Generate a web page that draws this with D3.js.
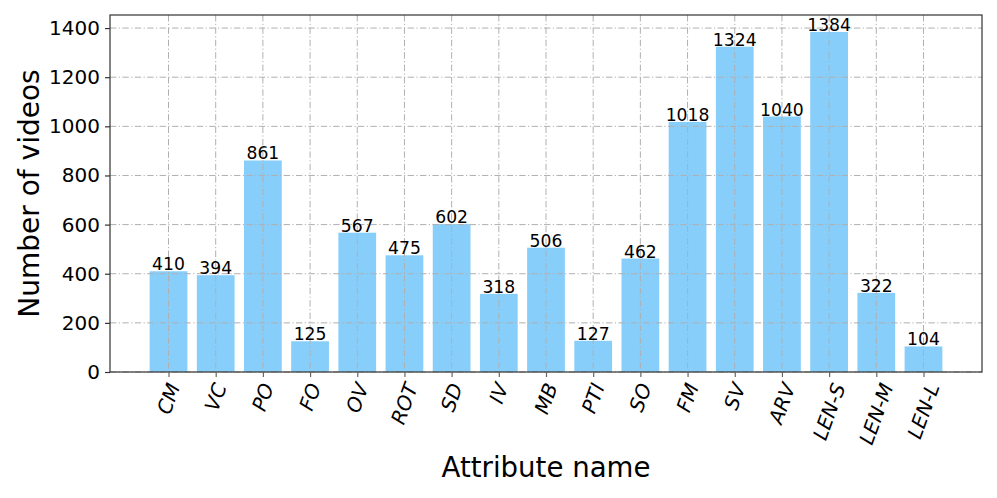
<!DOCTYPE html>
<html>
<head>
<meta charset="utf-8">
<script src="https://cdn.jsdelivr.net/npm/d3@7"></script>
<style>
  body { margin: 0; background: #fff; }
  svg { font-family: "DejaVu Sans", sans-serif; }
</style>
</head>
<body>
<svg width="997" height="498"></svg>
<script>
const attributes = ['CM', 'VC', 'PO', 'FO', 'OV', 'ROT', 'SD', 'IV', 'MB', 'PTI', 'SO', 'FM', 'SV', 'ARV', 'LEN-S', 'LEN-M', 'LEN-L'];
const videoCounts = [410, 394, 861, 125, 567, 475, 602, 318, 506, 127, 462, 1018, 1324, 1040, 1384, 322, 104];
const yTicks = [0, 200, 400, 600, 800, 1000, 1200, 1400];

function drawChart() {
	const svg = d3.select('svg');
	const left = 110, right = 982, top = 15, bottom = 372;

	// matplotlib-like limits: bars of width 0.8 with 5% margin
	const n = attributes.length;
	const pad = (n - 1 + 0.8) * 0.05;
	const x = d3.scaleLinear().domain([-0.4 - pad, n - 1 + 0.4 + pad]).range([left, right]);
	const ymax = d3.max(videoCounts) * 1.05;
	const y = d3.scaleLinear().domain([0, ymax]).range([bottom, top]);

	const grid = svg.append('g')
		.attr('stroke', '#b0b0b0')
		.attr('stroke-width', 1)
		.attr('stroke-dasharray', '6.4,2.4,1.2,2.4');
	grid.selectAll('line.h').data(yTicks).enter().append('line')
		.attr('x1', left).attr('x2', right)
		.attr('y1', d => y(d)).attr('y2', d => y(d));
	grid.selectAll('line.v').data(attributes).enter().append('line')
		.attr('x1', (d, i) => x(i)).attr('x2', (d, i) => x(i))
		.attr('y1', top).attr('y2', bottom);

	svg.append('g').selectAll('rect').data(videoCounts).enter().append('rect')
		.attr('x', (d, i) => x(i - 0.4))
		.attr('width', x(0.8) - x(0))
		.attr('y', d => y(d))
		.attr('height', d => bottom - y(d))
		.attr('fill', '#87cefa');

	// grid drawn over bars, as in the picture
	grid.raise();

	svg.append('g').selectAll('text').data(videoCounts).enter().append('text')
		.attr('x', (d, i) => x(i))
		.attr('y', d => y(d) - 1)
		.attr('text-anchor', 'middle')
		.attr('font-size', 17.2)
		.attr('fill', '#000')
		.text(d => d);

	svg.append('rect')
		.attr('x', left).attr('y', top)
		.attr('width', right - left).attr('height', bottom - top)
		.attr('fill', 'none').attr('stroke', '#333').attr('stroke-width', 1.2);

	const yAxis = d3.axisLeft(y).tickValues(yTicks).tickSize(5).tickPadding(5).tickFormat(d3.format('d'));
	svg.append('g').attr('transform', `translate(${left},0)`).call(yAxis)
		.call(g => g.select('.domain').remove())
		.call(g => g.selectAll('line').attr('stroke', '#333').attr('stroke-width', 1.2))
		.call(g => g.selectAll('text').attr('font-size', 20).attr('fill', '#000')
			.attr('font-family', '"DejaVu Sans", sans-serif'));

	const xAxis = d3.axisBottom(x).tickValues(d3.range(n)).tickSize(5).tickFormat('');
	svg.append('g').attr('transform', `translate(0,${bottom})`).call(xAxis)
		.call(g => g.select('.domain').remove())
		.call(g => g.selectAll('line').attr('stroke', '#666').attr('stroke-width', 1.2));

	// rotated tick labels, bbox centred on tick with top just below it
	const ang = 70 * Math.PI / 180;
	const fs = 20;
	const labels = svg.append('g').selectAll('text').data(attributes).enter().append('text')
		.attr('font-size', fs)
		.attr('font-style', 'oblique')
		.attr('text-anchor', 'middle')
		.attr('dominant-baseline', 'central')
		.text(d => d);
	labels.each(function(d, i) {
		const w = this.getComputedTextLength();
		const h = fs * 0.9;
		const bh = w * Math.sin(ang) + h * Math.cos(ang);
		const cy = bottom + 9 + bh / 2;
		d3.select(this).attr('transform', `translate(${x(i)},${cy}) rotate(-70)`);
	});

	svg.append('text')
		.attr('x', (left + right) / 2).attr('y', 477)
		.attr('text-anchor', 'middle')
		.attr('font-size', 27.6)
		.text('Attribute name');

	svg.append('text')
		.attr('transform', `translate(39,${(top + bottom) / 2}) rotate(-90)`)
		.attr('text-anchor', 'middle')
		.attr('font-size', 28)
		.text('Number of videos');
}

drawChart();
</script>
</body>
</html>
